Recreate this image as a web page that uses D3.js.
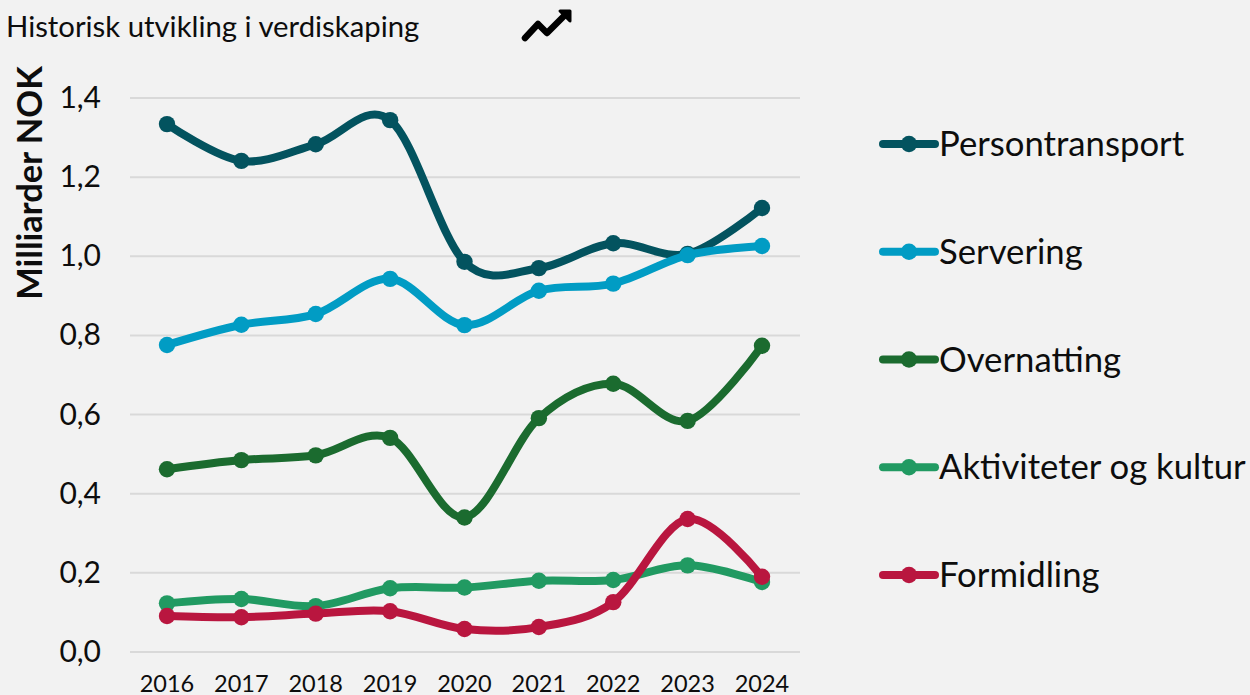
<!DOCTYPE html>
<html><head><meta charset="utf-8">
<script src="https://cdn.jsdelivr.net/npm/d3@7"></script>
<style>
html,body{margin:0;padding:0;background:#f2f2f2}
svg{display:block}
text{font-family:Lato,"Open Sans",sans-serif;fill:#0d0d0d}
</style></head><body>
<svg id="c" width="1250" height="695"></svg>
<script>
const years=[2016,2017,2018,2019,2020,2021,2022,2023,2024];
const yTicks=[0,0.2,0.4,0.6,0.8,1.0,1.2,1.4];
const seriesNames=["Persontransport","Servering","Overnatting","Aktiviteter og kultur","Formidling"];
const seriesColors=["#03535f","#019cc4","#1b6b2f","#219a62","#b9163f"];
const persontransport=[1.334,1.241,1.283,1.344,0.986,0.970,1.033,1.006,1.122];
const servering=[0.776,0.827,0.854,0.943,0.826,0.913,0.931,1.003,1.026];
const overnatting=[0.462,0.485,0.497,0.541,0.340,0.591,0.678,0.584,0.774];
const aktiviteter=[0.123,0.134,0.116,0.161,0.163,0.180,0.182,0.219,0.177];
const formidling=[0.091,0.088,0.097,0.103,0.058,0.063,0.126,0.336,0.190];
const seriesValues=[persontransport,servering,overnatting,aktiviteter,formidling];

const svg=d3.select("#c");
const x=d3.scalePoint().domain(years).range([167,762]);
const y=d3.scaleLinear().domain([0,1.4]).range([652,98]);
const comma=v=>v.toFixed(1).replace(".",",");

svg.append("g").selectAll("line").data(yTicks).join("line")
  .attr("x1",130).attr("x2",800).attr("y1",d=>y(d)).attr("y2",d=>y(d))
  .attr("stroke","#d9d9d9").attr("stroke-width",2);
svg.append("g").selectAll("text").data(yTicks).join("text")
  .attr("x",101).attr("y",d=>y(d)+10).attr("text-anchor","end")
  .attr("font-size",30).text(comma);
svg.append("g").selectAll("text").data(years).join("text")
  .attr("x",d=>x(d)).attr("y",692).attr("text-anchor","middle")
  .attr("font-size",23.5).text(d=>d);

svg.append("text").attr("transform","translate(42,183) rotate(-90)")
  .attr("text-anchor","middle").attr("font-size",34.5).attr("font-weight",700).text("Milliarder NOK");
svg.append("text").attr("x",6).attr("y",37).attr("font-size",29.3).text("Historisk utvikling i verdiskaping");

// trend icon
svg.append("path").attr("d","M525 38 L538 24 L547 33 L565 15")
  .attr("fill","none").attr("stroke","#000").attr("stroke-width",6.5).attr("stroke-linecap","round").attr("stroke-linejoin","round");
svg.append("path").attr("d","M560 11 L570 11 L570 21 Z").attr("fill","#000").attr("stroke","#000").attr("stroke-width",3).attr("stroke-linejoin","round");

const line=d3.line().x((d,i)=>x(years[i])).y(d=>y(d)).curve(d3.curveCatmullRom.alpha(0));
seriesValues.forEach((vals,k)=>{
  const g=svg.append("g");
  g.append("path").attr("d",line(vals)).attr("fill","none").attr("stroke",seriesColors[k])
    .attr("stroke-width",8).attr("stroke-linecap","round");
  g.selectAll("circle").data(vals).join("circle")
    .attr("cx",(d,i)=>x(years[i])).attr("cy",d=>y(d)).attr("r",8.2).attr("fill",seriesColors[k]);
});

const legendY=d3.scalePoint().domain(seriesNames).range([144,575]);
const lg=svg.append("g").selectAll("g").data(seriesNames).join("g")
  .attr("transform",d=>`translate(0,${legendY(d)})`);
lg.append("line").attr("x1",883).attr("x2",935).attr("y1",0).attr("y2",0)
  .attr("stroke",(d,i)=>seriesColors[i]).attr("stroke-width",8).attr("stroke-linecap","round");
lg.append("circle").attr("cx",909).attr("cy",0).attr("r",8.2).attr("fill",(d,i)=>seriesColors[i]);
lg.append("text").attr("x",939).attr("y",12).attr("font-size",34.7).text(d=>d);
</script></body></html>
